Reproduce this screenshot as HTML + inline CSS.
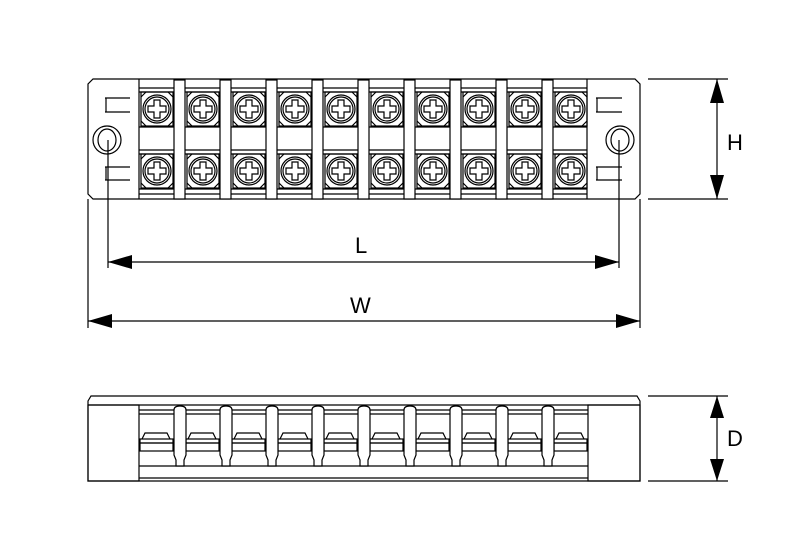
<!DOCTYPE html>
<html><head><meta charset="utf-8"><style>
html,body{margin:0;padding:0;background:#fff;}
svg{display:block;}
text{font-family:"Liberation Sans",sans-serif;font-size:22px;fill:#000;}
</style></head><body>
<svg width="800" height="560" viewBox="0 0 800 560" xmlns="http://www.w3.org/2000/svg">
<defs>
<g id="scr" fill="none" stroke="#000" stroke-width="1.2">
  <rect x="-16" y="-17" width="32" height="34"/>
  <path d="M-16,-12 L-11,-17 M11,-17 L16,-12 M-16,12 L-11,17 M11,17 L16,12"/>
  <circle r="14"/><circle r="12"/>
  <path d="M-3,-9 H3 V-3 H9 V3 H3 V9 H-3 V3 H-9 V-3 H-3 Z"/>
</g>
<g id="term" fill="none" stroke="#000" stroke-width="1.2">
  <path d="M-15,439 L-12,433 H10 L13,439"/>
  <rect x="-17" y="439" width="33" height="4"/>
  <rect x="-17" y="443" width="33" height="8"/>
</g>
<g id="bar" fill="#fff" stroke="#000" stroke-width="1.2">
  <path d="M0,455 V410 Q0,406 6,406 Q12,406 12,410 V455 L10,460 V466 H2 V460 Z"/>
</g>
<g id="tbar" fill="#fff" stroke="#000" stroke-width="1.2">
  <rect x="0" y="80" width="11" height="119"/>
</g>
</defs>
<g fill="none" stroke="#000" stroke-width="1.2">
  <path d="M93,79 H635 L640,84 V194 L635,199 H93 L88,194 V84 Z"/>
  <line x1="139" y1="79" x2="139" y2="199"/>
  <line x1="587" y1="79" x2="587" y2="199"/>
  <line x1="139" y1="88" x2="587" y2="88"/>
  <line x1="139" y1="92" x2="587" y2="92"/>
  <line x1="139" y1="127" x2="587" y2="127"/>
  <line x1="139" y1="150" x2="587" y2="150"/>
  <line x1="139" y1="154" x2="587" y2="154"/>
  <line x1="139" y1="189" x2="587" y2="189"/>
  <line x1="139" y1="194" x2="587" y2="194"/>
  <circle cx="107" cy="140" r="14"/><ellipse cx="107" cy="140" rx="9" ry="11"/>
  <circle cx="620" cy="140" r="14"/><ellipse cx="620" cy="140" rx="9" ry="11"/>
  <path d="M105,98 H130 M105,112 H130 M106,98 V112"/>
  <path d="M105,167 H130 M105,180 H130 M106,167 V180"/>
  <path d="M596,98 H622 M596,112 H622 M597,98 V112"/>
  <path d="M596,167 H622 M596,180 H622 M597,167 V180"/>
</g>
<g>
  <use href="#tbar" x="174"/><use href="#tbar" x="220"/><use href="#tbar" x="266"/>
  <use href="#tbar" x="312"/><use href="#tbar" x="358"/><use href="#tbar" x="404"/>
  <use href="#tbar" x="450"/><use href="#tbar" x="496"/><use href="#tbar" x="542"/>
</g>
<g>
  <use href="#scr" x="157" y="109"/><use href="#scr" x="203" y="109"/><use href="#scr" x="249" y="109"/>
  <use href="#scr" x="295" y="109"/><use href="#scr" x="341" y="109"/><use href="#scr" x="387" y="109"/>
  <use href="#scr" x="433" y="109"/><use href="#scr" x="479" y="109"/><use href="#scr" x="525" y="109"/>
  <use href="#scr" x="571" y="109"/>
  <use href="#scr" x="157" y="171"/><use href="#scr" x="203" y="171"/><use href="#scr" x="249" y="171"/>
  <use href="#scr" x="295" y="171"/><use href="#scr" x="341" y="171"/><use href="#scr" x="387" y="171"/>
  <use href="#scr" x="433" y="171"/><use href="#scr" x="479" y="171"/><use href="#scr" x="525" y="171"/>
  <use href="#scr" x="571" y="171"/>
</g>
<g fill="none" stroke="#000" stroke-width="1.2">
  <line x1="108" y1="140" x2="108" y2="268"/>
  <line x1="619" y1="140" x2="619" y2="268"/>
  <line x1="88" y1="199" x2="88" y2="328"/>
  <line x1="640" y1="199" x2="640" y2="328"/>
  <line x1="108" y1="262" x2="619" y2="262"/>
  <line x1="88" y1="321" x2="640" y2="321"/>
  <line x1="648" y1="79" x2="728" y2="79"/>
  <line x1="648" y1="199" x2="728" y2="199"/>
  <line x1="717" y1="79" x2="717" y2="199"/>
  <line x1="648" y1="396" x2="728" y2="396"/>
  <line x1="648" y1="481" x2="728" y2="481"/>
  <line x1="717" y1="396" x2="717" y2="481"/>
</g>
<g fill="#000">
  <path d="M108,262 L132,255 V269 Z"/><path d="M619,262 L595,255 V269 Z"/>
  <path d="M88,321 L112,314 V328 Z"/><path d="M640,321 L616,314 V328 Z"/>
  <path d="M717,79 L710,103 H724 Z"/><path d="M717,199 L710,175 H724 Z"/>
  <path d="M717,396 L710,418 H724 Z"/><path d="M717,481 L710,459 H724 Z"/>
</g>
<text x="355" y="253">L</text>
<text x="350" y="313">W</text>
<text x="727" y="150">H</text>
<text x="727" y="446">D</text>
<g fill="none" stroke="#000" stroke-width="1.2">
  <path d="M91,396 H637 L640,401 V481 H88 V401 Z"/>
  <line x1="88" y1="405" x2="640" y2="405"/>
  <rect x="88" y="405" width="51" height="76"/>
  <rect x="588" y="405" width="52" height="76"/>
  <line x1="139" y1="410" x2="588" y2="410"/>
  <line x1="139" y1="414" x2="588" y2="414"/>
  <line x1="139" y1="478" x2="588" y2="478"/>
  <line x1="139" y1="466" x2="588" y2="466"/>
</g>
<g>
  <use href="#term" x="157"/><use href="#term" x="203"/><use href="#term" x="249"/>
  <use href="#term" x="295"/><use href="#term" x="341"/><use href="#term" x="387"/>
  <use href="#term" x="433"/><use href="#term" x="479"/><use href="#term" x="525"/>
  <use href="#term" x="571"/>
</g>
<g>
  <use href="#bar" x="174"/><use href="#bar" x="220"/><use href="#bar" x="266"/>
  <use href="#bar" x="312"/><use href="#bar" x="358"/><use href="#bar" x="404"/>
  <use href="#bar" x="450"/><use href="#bar" x="496"/><use href="#bar" x="542"/>
</g>
</svg>
</body></html>
